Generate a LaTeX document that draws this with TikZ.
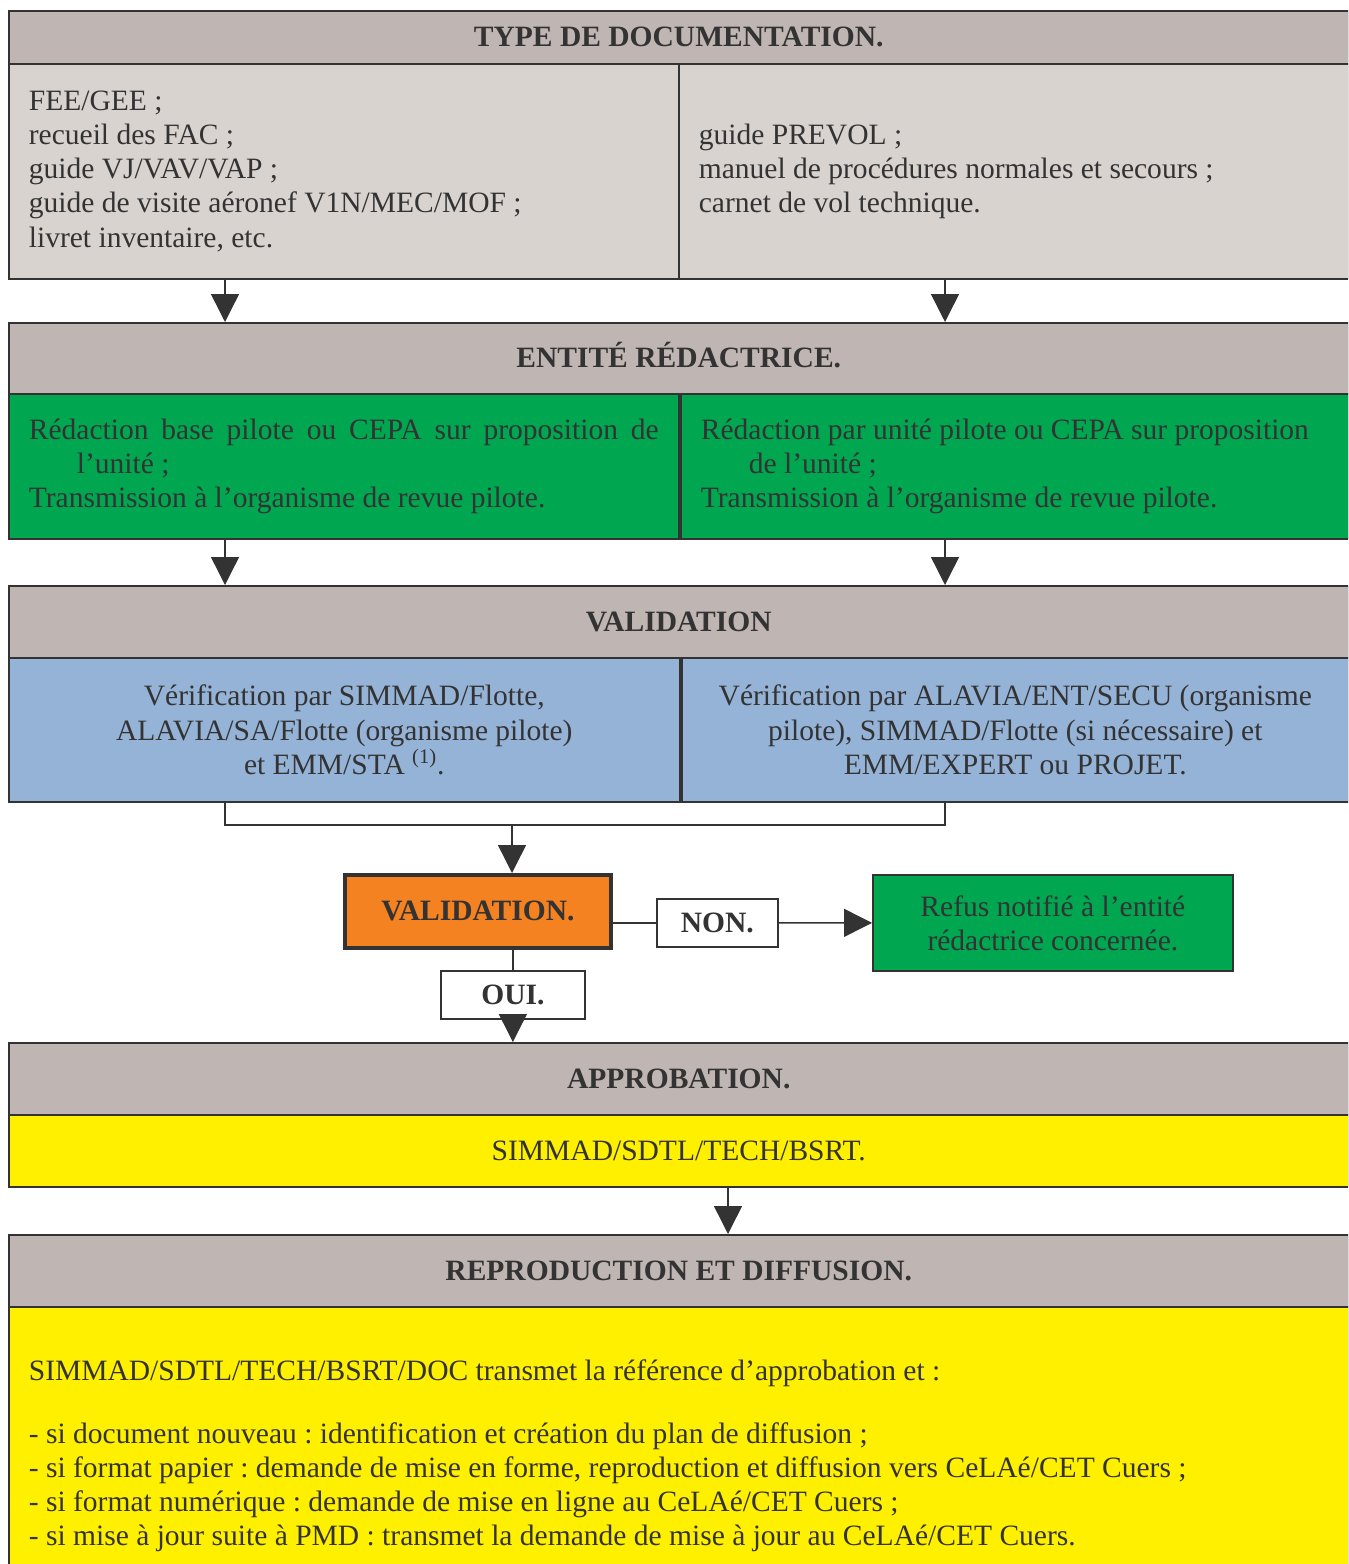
\documentclass[tikz,border=0pt]{standalone}
\usepackage{fontspec}
\setmainfont{Liberation Serif}
\usetikzlibrary{arrows.meta,positioning}
\frenchspacing
\definecolor{headgrey}{HTML}{BFB5B2}
\definecolor{docgrey}{HTML}{D9D3D0}
\definecolor{redgreen}{HTML}{00A650}
\definecolor{valblue}{HTML}{95B3D7}
\definecolor{decorange}{HTML}{F58220}
\definecolor{appyellow}{HTML}{FFF000}
\definecolor{ink}{HTML}{333333}
\begin{document}
\begin{tikzpicture}[x=0.02cm, y=-0.02cm,
    every node/.style = {font=\fontsize{16.8}{19.4}\selectfont, text=ink, draw=ink, line width=1pt, anchor=north west, inner sep=0pt},
    head/.style = {fill=headgrey, minimum width=26.8cm, font=\fontsize{16.8}{19.4}\selectfont\bfseries},
    txtbox/.style = {align=left, text width=#1, inner xsep=0.4cm, execute at begin node={\spaceskip=0.25em plus 0.12em minus 0.06em\relax}},
    midbox/.style = {align=center},
    conn/.style = {draw=ink, line width=0.8pt},
    arr/.style = {conn, -{Triangle[width=0.56cm, length=0.56cm]}}]
    \useasboundingbox (0,0) rectangle (1348,1564);
    \clip (0,0) rectangle (1348,1564);
    \coordinate (colL) at (225,0);
    \coordinate (colR) at (945,0);
    \coordinate (colM) at (728,0);
    \coordinate (join) at (512,825);
    \node[head, minimum height=1.06cm] (hType) at (8,10) {\raisebox{-0.04cm}{TYPE DE DOCUMENTATION.}};
    \node[txtbox=12.6cm, fill=docgrey, minimum height=4.3cm] (typeL) at (8,63) {FEE/GEE ;\\ recueil des FAC ;\\ guide VJ/VAV/VAP ;\\ guide de visite aéronef V1N/MEC/MOF ;\\ livret inventaire, etc.};
    \node[txtbox=12.6cm, fill=docgrey, minimum height=4.3cm] (typeR) at (678,63) {guide PREVOL ;\\ manuel de procédures normales et secours ;\\ carnet de vol technique.};
    \node[head, minimum height=1.42cm] (hRedac) at (8,322) {\raisebox{0.16cm}{ENTITÉ RÉDACTRICE.}};
    \node[txtbox=12.6cm, fill=redgreen, minimum height=2.9cm] (redacL) at (8,393) {\makebox[12.6cm][s]{Rédaction base pilote ou CEPA sur proposition de}\\ \hspace*{0.96cm}l’unité ;\\ Transmission à l’organisme de revue pilote.};
    \node[txtbox=12.56cm, fill=redgreen, minimum height=2.9cm] (redacR) at (680,393) {Rédaction par unité pilote ou CEPA sur proposition\\ \hspace*{0.96cm}de l’unité ;\\ Transmission à l’organisme de revue pilote.};
    \node[head, minimum height=1.44cm] (hValid) at (8,585) {\raisebox{-0.06cm}{VALIDATION}};
    \node[midbox, fill=valblue, minimum width=13.42cm, minimum height=2.88cm] (validL) at (8,657) {Vérification par SIMMAD/Flotte,\\ ALAVIA/SA/Flotte (organisme pilote)\\ et EMM/STA \textsuperscript{(1)}.};
    \node[midbox, fill=valblue, minimum width=13.34cm, minimum height=2.88cm] (validR) at (681,657) {Vérification par ALAVIA/ENT/SECU (organisme\\ pilote), SIMMAD/Flotte (si nécessaire) et\\ EMM/EXPERT ou PROJET.};
    \node[fill=decorange, line width=2.2pt, minimum width=5.32cm, minimum height=1.46cm, font=\fontsize{16.8}{19.4}\selectfont\bfseries] (decision) at (343,873) {VALIDATION.};
    \node[fill=white, minimum width=2.42cm, minimum height=0.96cm, font=\fontsize{16.8}{19.4}\selectfont\bfseries] (non) at (656,898) {NON.};
    \node[midbox, fill=redgreen, minimum width=7.2cm, minimum height=1.92cm] (refus) at (872,874) {Refus notifié à l’entité\\ rédactrice concernée.};
    \node[fill=white, minimum width=2.88cm, minimum height=0.96cm, font=\fontsize{16.8}{19.4}\selectfont\bfseries] (oui) at (440,970) {OUI.};
    \node[head, minimum height=1.44cm] (hApprob) at (8,1042) {\raisebox{-0.06cm}{APPROBATION.}};
    \node[fill=appyellow, minimum width=26.8cm, minimum height=1.44cm] (approb) at (8,1114) {SIMMAD/SDTL/TECH/BSRT.};
    \node[head, minimum height=1.44cm] (hDiff) at (8,1234) {\raisebox{-0.06cm}{REPRODUCTION ET DIFFUSION.}};
    \node[txtbox=26.0cm, fill=appyellow, minimum height=5.96cm] (diff) at (8,1306) {SIMMAD/SDTL/TECH/BSRT/DOC transmet la référence d’approbation et :\\[0.56cm] - si document nouveau : identification et création du plan de diffusion ;\\ - si format papier : demande de mise en forme, reproduction et diffusion vers CeLAé/CET Cuers ;\\ - si format numérique : demande de mise en ligne au CeLAé/CET Cuers ;\\ - si mise à jour suite à PMD : transmet la demande de mise à jour au CeLAé/CET Cuers.};
    \draw[arr] (typeL.south -| colL) -- (hRedac.north -| colL);
    \draw[arr] (typeR.south -| colR) -- (hRedac.north -| colR);
    \draw[arr] (redacL.south -| colL) -- (hValid.north -| colL);
    \draw[arr] (redacR.south -| colR) -- (hValid.north -| colR);
    \draw[conn] (validL.south -| colL) |- (join) -| (validR.south -| colR);
    \draw[arr] (join) -- (decision.north -| join);
    \draw[conn] (decision.east |- non.west) -- (non.west);
    \draw[arr] (non.east) -- (refus.west);
    \draw[conn] (decision.south -| oui) -- (oui.north);
    \draw[arr] (oui.south) -- (hApprob.north -| oui);
    \draw[arr] (approb.south -| colM) -- (hDiff.north -| colM);
\end{tikzpicture}
\end{document}
